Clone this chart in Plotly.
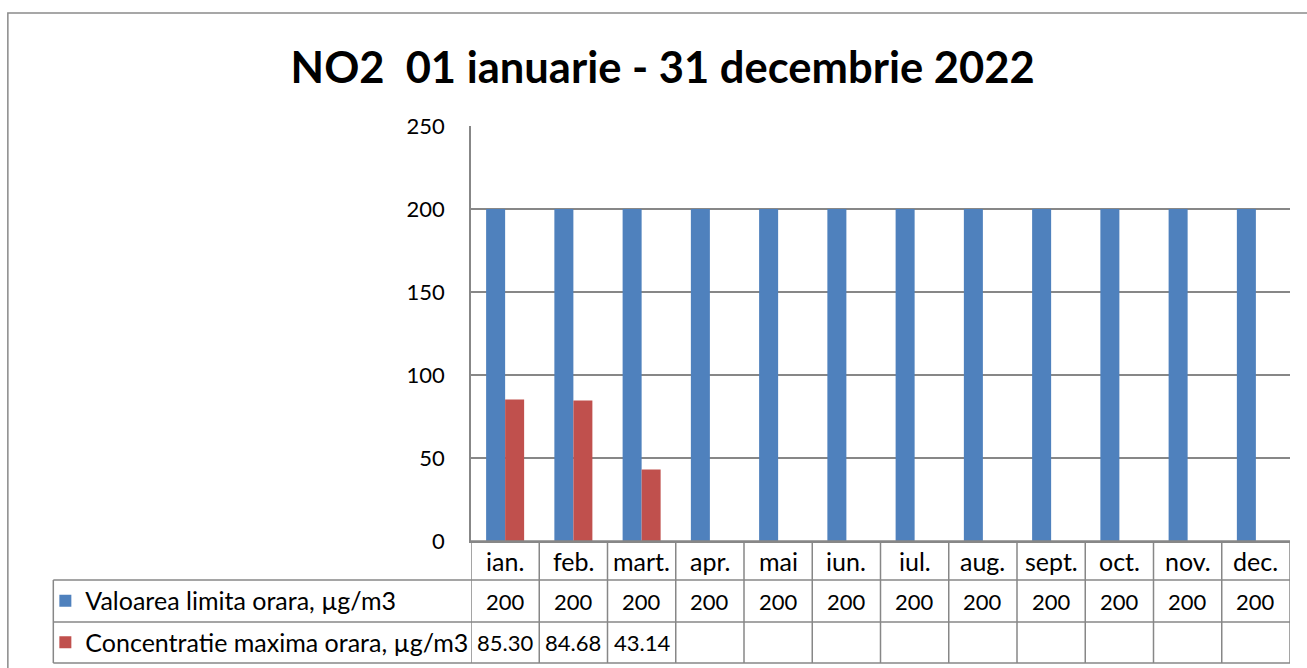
import plotly.graph_objects as go

months = ["ian.", "feb.", "mart.", "apr.", "mai", "iun.", "iul.", "aug.", "sept.", "oct.", "nov.", "dec."]
limit_name = "Valoarea limita orara, µg/m3"
conc_name = "Concentratie maxima orara, µg/m3"
limit_values = [200, 200, 200, 200, 200, 200, 200, 200, 200, 200, 200, 200]
conc_values = [85.30, 84.68, 43.14, None, None, None, None, None, None, None, None, None]
y_ticks = [0, 50, 100, 150, 200, 250]
title_text = "NO2  01 ianuarie - 31 decembrie 2022"

BLUE = "#4F81BD"
RED = "#C0504D"
GRID = "#878787"
FONT = "Lato"

fig = go.Figure()
fig.add_trace(go.Bar(x=months, y=limit_values, name=limit_name, marker_color=BLUE,
                     marker_line_width=0, legend="legend"))
fig.add_trace(go.Bar(x=months, y=conc_values, name=conc_name, marker_color=RED,
                     marker_line_width=0, legend="legend2"))

# table geometry (in y-domain units below the plot)
row_lines = [0.0, -0.094, -0.195, -0.294]
row_centers = [-0.047, -0.145, -0.2445]
table_left = -0.51

shapes = []
for k in range(len(months) + 1):
    shapes.append(dict(type="line", xref="x", yref="y domain", x0=k - 0.5, x1=k - 0.5,
                       y0=row_lines[0], y1=row_lines[3], line=dict(color=GRID, width=1.5)))
shapes.append(dict(type="line", xref="paper", yref="y domain", x0=0, x1=1,
                   y0=row_lines[0], y1=row_lines[0], line=dict(color=GRID, width=1.5)))
for yl in row_lines[1:]:
    shapes.append(dict(type="line", xref="paper", yref="y domain", x0=table_left, x1=1,
                       y0=yl, y1=yl, line=dict(color=GRID, width=1.5)))
shapes.append(dict(type="line", xref="paper", yref="y domain", x0=table_left, x1=table_left,
                   y0=row_lines[1], y1=row_lines[3], line=dict(color=GRID, width=1.5)))
# outer chart border
shapes.append(dict(type="rect", xref="paper", yref="paper", x0=-0.5655, x1=1.2, y0=-0.5, y1=1.272,
                   line=dict(color="#8a8a8a", width=1.5), fillcolor="rgba(0,0,0,0)", layer="below"))

annotations = []
for i, m in enumerate(months):
    annotations.append(dict(x=m, xref="x", y=row_centers[0], yref="y domain", text=m,
                            xanchor="center", yanchor="middle", showarrow=False,
                            font=dict(family=FONT, size=25, color="black")))
    annotations.append(dict(x=m, xref="x", y=row_centers[1], yref="y domain", text=str(limit_values[i]),
                            xanchor="center", yanchor="middle", showarrow=False,
                            font=dict(family=FONT, size=22, color="black")))
    if conc_values[i] is not None:
        annotations.append(dict(x=m, xref="x", y=row_centers[2], yref="y domain",
                                text=f"{conc_values[i]:.2f}", xanchor="center", yanchor="middle",
                                showarrow=False, font=dict(family=FONT, size=22, color="black")))

legend_common = dict(xref="container", xanchor="left", yref="container", yanchor="middle",
                     bgcolor="rgba(0,0,0,0)", borderwidth=0, itemwidth=30,
                     font=dict(family=FONT, size=25, color="black"))

fig.update_layout(
    width=1307, height=668, autosize=False,
    margin=dict(l=471, r=17, t=126, b=127, pad=0, autoexpand=False),
    paper_bgcolor="white", plot_bgcolor="white",
    barmode="group", bargap=0.443, bargroupgap=0,
    title=dict(text=f"<b>{title_text}</b>", x=0.507, xref="container", y=0.898, yref="container",
               xanchor="center", yanchor="middle", font=dict(family=FONT, size=43.5, color="black")),
    xaxis=dict(type="category", categoryorder="array", categoryarray=months, range=[-0.5, 11.5],
               showticklabels=False, showgrid=False, showline=True, linecolor=GRID, linewidth=1.5,
               zeroline=False, fixedrange=True),
    yaxis=dict(range=[0, 250], tickvals=y_ticks, showgrid=True, gridcolor=GRID, gridwidth=1.5,
               showline=True, linecolor=GRID, linewidth=1.5, zeroline=False, ticks="",
               ticklabelstandoff=20, tickfont=dict(family=FONT, size=22, color="black")),
    legend=dict(x=0.0347, y=0.1003, **legend_common),
    legend2=dict(x=0.0347, y=0.0382, **legend_common),
    shapes=shapes, annotations=annotations, showlegend=True,
)

fig.write_html("out.html", config={"displayModeBar": False},
               post_script="document.body.style.margin='0';")
